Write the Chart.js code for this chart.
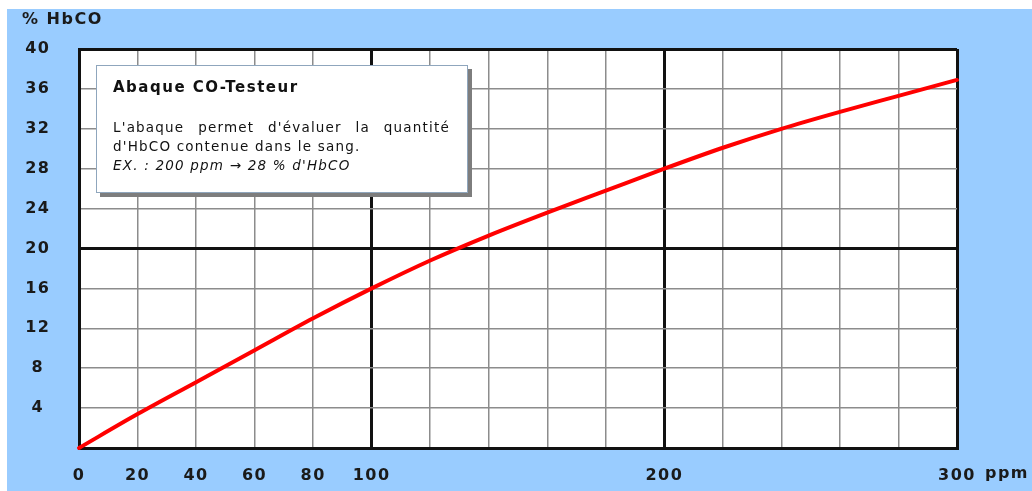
<!DOCTYPE html>
<html>
<head>
<meta charset="utf-8">
<script src="https://cdn.jsdelivr.net/npm/chart.js@4.4.1/dist/chart.umd.min.js"></script>
<style>
  body { margin: 0; background: #fff; }
  #cadre { position: relative; width: 1032px; height: 491px; }
  #boite {
    position: absolute; left: 96px; top: 65px; width: 370px; height: 126px;
    background: #fff; border: 1px solid #8fa6bd; box-shadow: 4px 4px 0 #7d7d7d;
    font-family: "DejaVu Sans", sans-serif; color: #111;
  }
  #boite .titre { position: absolute; left: 16px; top: 12px; font-weight: bold; font-size: 15px; letter-spacing: 1.5px; }
  #boite .ligne { position: absolute; left: 16px; width: 337px; font-size: 13.5px; letter-spacing: 1.2px; white-space: nowrap; }
  #boite .just { text-align: justify; text-align-last: justify; white-space: normal; }
</style>
</head>
<body>
<div id="cadre">
  <canvas id="grafico" width="1032" height="491"></canvas>
  <div id="boite">
    <div class="titre">Abaque CO-Testeur</div>
    <div class="ligne just" style="top:53px">L'abaque permet d'évaluer la quantité</div>
    <div class="ligne" style="top:72px">d'HbCO contenue dans le sang.</div>
    <div class="ligne" style="top:91px"><i>EX. : 200 ppm → 28 % d'HbCO</i></div>
  </div>
</div>
<script>
const ppm = [0, 20, 40, 60, 80, 100, 120, 140, 160, 180, 200, 220, 240, 260, 280, 300];
const hbco = [0, 3.4, 6.6, 9.8, 13.0, 16.0, 18.8, 21.3, 23.6, 25.8, 28.0, 30.1, 32.0, 33.7, 35.3, 36.9];

// Etiquettes affichées
const ppmEtiquetes = [0, 20, 40, 60, 80, 100, 200, 300];
const lignesFortesX = [0, 100, 200, 300];
const lignesFortesY = [0, 20, 40];

const police = { family: 'DejaVu Sans', weight: 'bold', size: 16 };

// fond bleu + textes hors axes
const fond = {
  id: 'fond',
  beforeDraw(chart) {
    const c = chart.ctx, a = chart.chartArea;
    c.save();
    c.fillStyle = '#fff';
    c.fillRect(0, 0, chart.width, chart.height);
    c.fillStyle = '#99ccff';
    c.fillRect(7, 9, chart.width - 7, chart.height - 9);
    c.fillStyle = '#fff';
    c.fillRect(a.left, a.top, a.right - a.left, a.bottom - a.top);
    c.restore();
    c.letterSpacing = '1.5px';
  },
  afterDraw(chart) {
    const c = chart.ctx, x = chart.scales.x;
    c.save();
    c.font = 'bold 16px "DejaVu Sans"';
    c.fillStyle = '#1a1a1a';
    c.textBaseline = 'middle';
    c.textAlign = 'left';
    c.fillText('% HbCO', 22, 20);
    const px = x.getPixelForValue(300) + c.measureText('300').width / 2 + 9;
    c.fillText('ppm', px, 474);
    c.restore();
  }
};

new Chart(document.getElementById('grafico').getContext('2d'), {
  type: 'line',
  data: {
    datasets: [{
      data: ppm.map((v, i) => ({ x: v, y: hbco[i] })),
      borderColor: '#ff0000',
      borderWidth: 4,
      borderCapStyle: 'round',
      pointRadius: 0,
      cubicInterpolationMode: 'monotone',
      clip: false
    }]
  },
  options: {
    responsive: false,
    animation: false,
    devicePixelRatio: 1,
    layout: { padding: { left: 7, top: 49, right: 75, bottom: 0 } },
    plugins: { legend: { display: false }, tooltip: { enabled: false } },
    scales: {
      x: {
        type: 'linear', min: 0, max: 300,
        afterFit: s => { s.height = 43; },
        border: { color: '#111', width: 3 },
        grid: {
          drawTicks: false,
          color: ctx => lignesFortesX.includes(ctx.tick.value) ? '#111' : '#8c8c8c',
          lineWidth: ctx => lignesFortesX.includes(ctx.tick.value) ? 3 : 1.5
        },
        ticks: {
          stepSize: 20, autoSkip: false, maxRotation: 0, padding: 18,
          color: '#1a1a1a', font: police,
          callback: v => ppmEtiquetes.includes(v) ? String(v) : ''
        }
      },
      y: {
        min: 0, max: 40,
        afterFit: s => { s.width = 72; },
        border: { color: '#111', width: 3 },
        grid: {
          drawTicks: false,
          color: ctx => lignesFortesY.includes(ctx.tick.value) ? '#111' : '#8c8c8c',
          lineWidth: ctx => lignesFortesY.includes(ctx.tick.value) ? 3 : 1.5
        },
        ticks: {
          stepSize: 4, padding: 30, crossAlign: 'center',
          color: '#1a1a1a', font: police,
          callback: v => v === 0 ? '' : String(v)
        }
      }
    }
  },
  plugins: [fond]
});
</script>
</body>
</html>
